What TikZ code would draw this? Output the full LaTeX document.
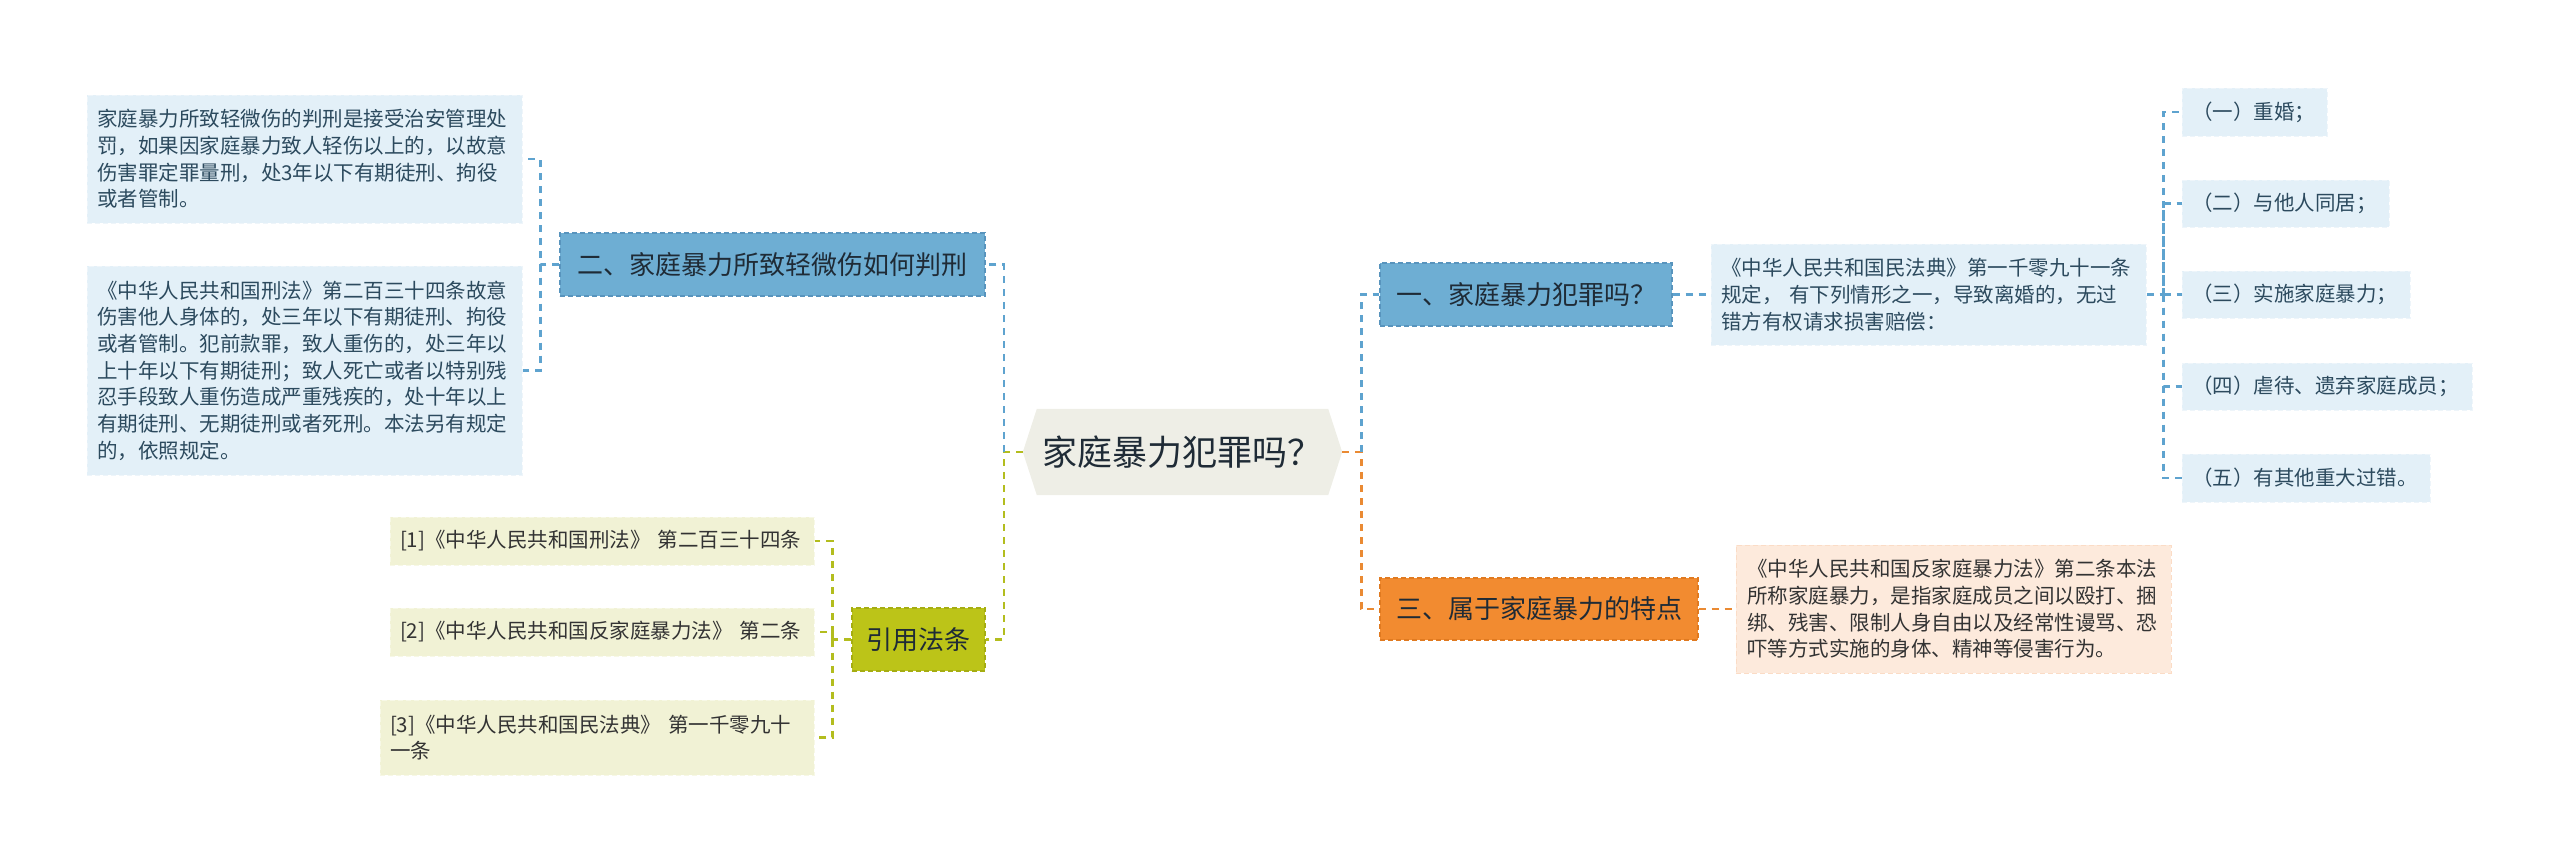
\documentclass[tikz,border=0pt]{standalone}
\usepackage{fontspec}
\setmainfont{Noto Sans CJK SC}
\usetikzlibrary{backgrounds}
\definecolor{blueline}{HTML}{5EA3CF}
\definecolor{limeline}{HTML}{B3BD1E}
\definecolor{orangeline}{HTML}{EA8A33}
\definecolor{bluefill}{HTML}{6EAED3}
\definecolor{blueborder}{HTML}{5894BD}
\definecolor{orangefill}{HTML}{F28B30}
\definecolor{orangeborder}{HTML}{E07A20}
\definecolor{limefill}{HTML}{BCC418}
\definecolor{limeborder}{HTML}{A5AD12}
\definecolor{lightblue}{HTML}{E3F0F8}
\definecolor{lightblueborder}{HTML}{EEF5FA}
\definecolor{lightlime}{HTML}{F1F2D5}
\definecolor{lightlimeborder}{HTML}{F7F8E6}
\definecolor{peach}{HTML}{FDEADC}
\definecolor{peachborder}{HTML}{FBDCC6}
\definecolor{rootfill}{HTML}{EEEEE6}
\definecolor{darktext}{HTML}{1F2B36}
\definecolor{bluetext}{HTML}{2C4A5E}
\definecolor{greytext}{HTML}{333333}
\begin{document}
\begin{tikzpicture}[x=1pt,y=-1pt,
  conn/.style={line width=2.6pt, dash pattern=on 7pt off 6pt},
  bconn/.style={conn, draw=blueline},
  lconn/.style={conn, draw=limeline},
  oconn/.style={conn, draw=orangeline},
  mainbox/.style={rectangle, inner sep=0pt, line width=1.4pt, dash pattern=on 5pt off 3pt,
    text=darktext, font=\fontsize{26}{30}\selectfont, minimum height=63pt},
  bluemain/.style={mainbox, fill=bluefill, draw=blueborder},
  orangemain/.style={mainbox, fill=orangefill, draw=orangeborder},
  limemain/.style={mainbox, fill=limefill, draw=limeborder},
  leaf/.style={rectangle, inner xsep=10pt, inner ysep=0pt, line width=1pt,
    dash pattern=on 5pt off 3pt, align=left,
    font=\fontsize{20.5}{26.7}\selectfont},
  blueleaf/.style={leaf, fill=lightblue, draw=lightblueborder, text=bluetext},
  limeleaf/.style={leaf, fill=lightlime, draw=lightlimeborder, text=greytext},
  peachleaf/.style={leaf, fill=peach, draw=peachborder, text=greytext}
]
\useasboundingbox (0,0) rectangle (2560,863);

% root
\node[rectangle, inner sep=0pt, minimum width=291pt, minimum height=86pt,
  font=\fontsize{35}{40}\selectfont, text=darktext] (root) at (1182.5,452) {家庭暴力犯罪吗？};
\coordinate (rootW) at ([xshift=-14pt]root.west);
\coordinate (rootE) at ([xshift=14pt]root.east);
\begin{scope}[on background layer]
\fill[rootfill] (rootW) -- (root.north west) -- (root.north east) -- (rootE)
  -- (root.south east) -- (root.south west) -- cycle;
\end{scope}

% main branches
\node[bluemain, minimum width=425pt] (n2) at (772.5,264.5) {二、家庭暴力所致轻微伤如何判刑};
\node[limemain, minimum width=133pt] (nref) at (918.5,639.5) {引用法条};
\node[bluemain, minimum width=292pt] (n1) at (1526,294.5) {一、家庭暴力犯罪吗？};
\node[orangemain, minimum width=318pt, minimum height=62pt] (n3) at (1539,609) {三、属于家庭暴力的特点};

% left leaves
\node[blueleaf, text width=415pt, minimum height=128pt] (A) at (304.5,159)
  {家庭暴力所致轻微伤的判刑是接受治安管理处\\罚，如果因家庭暴力致人轻伤以上的，以故意\\伤害罪定罪量刑，处3年以下有期徒刑、拘役\\或者管制。};
\node[blueleaf, text width=415pt, minimum height=209pt] (B) at (304.5,370.5)
  {《中华人民共和国刑法》第二百三十四条故意\\伤害他人身体的，处三年以下有期徒刑、拘役\\或者管制。犯前款罪，致人重伤的，处三年以\\上十年以下有期徒刑；致人死亡或者以特别残\\忍手段致人重伤造成严重残疾的，处十年以上\\有期徒刑、无期徒刑或者死刑。本法另有规定\\的，依照规定。};

\node[limeleaf, text width=404pt, minimum height=48pt] (r1) at (602,541)
  {[1]《中华人民共和国刑法》 第二百三十四条};
\node[limeleaf, text width=404pt, minimum height=48pt] (r2) at (602,632)
  {[2]《中华人民共和国反家庭暴力法》 第二条};
\node[limeleaf, text width=414pt, minimum height=75pt] (r3) at (597,737.5)
  {[3]《中华人民共和国民法典》 第一千零九十\\一条};

% right leaves
\node[blueleaf, text width=415pt, minimum height=101pt] (C) at (1928.5,294.5)
  {《中华人民共和国民法典》第一千零九十一条\\规定， 有下列情形之一，导致离婚的，无过\\错方有权请求损害赔偿：};
\node[peachleaf, text width=413pt, inner xsep=11pt, minimum height=128pt] (D) at (1953.5,609)
  {《中华人民共和国反家庭暴力法》第二条本法\\所称家庭暴力，是指家庭成员之间以殴打、捆\\绑、残害、限制人身自由以及经常性谩骂、恐\\吓等方式实施的身体、精神等侵害行为。};

\node[blueleaf, text width=125pt, minimum height=48pt] (i1) at (2254.5,112) {（一）重婚；};
\node[blueleaf, text width=187pt, minimum height=47pt] (i2) at (2285.5,203.5) {（二）与他人同居；};
\node[blueleaf, text width=208pt, minimum height=47pt] (i3) at (2296,294.5) {（三）实施家庭暴力；};
\node[blueleaf, text width=270pt, minimum height=47pt] (i4) at (2327,386.5) {（四）虐待、遗弃家庭成员；};
\node[blueleaf, text width=228pt, minimum height=48pt] (i5) at (2306,478) {（五）有其他重大过错。};

% connectors: root
\draw[lconn] (rootW) -- ++(-19,0) |- (nref.east);
\draw[bconn] ([xshift=-19pt]rootW) |- (n2.east);
\draw[oconn] (rootE) -- ++(19,0) |- (n3.west);
\draw[bconn] ([xshift=19pt]rootE) |- (n1.west);

% n2
\draw[bconn] (n2.west) -- ++(-19,0) |- (A.east);
\draw[bconn] ([xshift=-19pt]n2.west) |- (B.east);

% refs
\draw[lconn] (nref.west) -- ++(-19,0) |- (r1.east);
\draw[lconn] ([xshift=-19pt]nref.west) |- (r2.east);
\draw[lconn] ([xshift=-19pt]nref.west) |- (r3.east);

% n1, n3
\draw[bconn] (n1.east) -- (C.west);
\draw[oconn] (n3.east) -- (D.west);

% items
\draw[bconn] (C.east) -- ++(17,0) |- (i1.west);
\draw[bconn] ([xshift=17pt]C.east) |- (i2.west);
\draw[bconn] ([xshift=17pt]C.east) |- (i3.west);
\draw[bconn] ([xshift=17pt]C.east) |- (i4.west);
\draw[bconn] ([xshift=17pt]C.east) |- (i5.west);
\end{tikzpicture}
\end{document}
